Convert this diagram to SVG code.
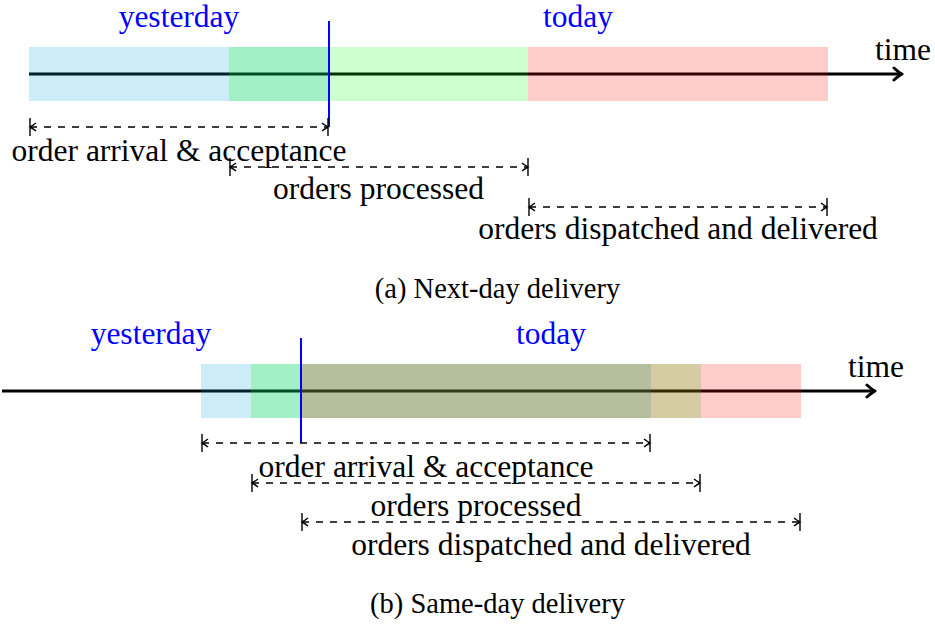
<svg xmlns="http://www.w3.org/2000/svg" width="935" height="625" viewBox="0 0 935 625">
<defs>
<style>
text{font-family:"Liberation Serif","Times New Roman",serif;}
.lbl{font-size:31.5px;fill:#000;text-anchor:middle;}
.day{font-size:31.5px;fill:#0000ff;text-anchor:middle;}
.time{font-size:31.5px;fill:#000;}
.cap{font-size:28.5px;fill:#000;text-anchor:middle;}
.axis{stroke:#000;stroke-width:3;fill:none;marker-end:url(#axarrow);}
.dim{stroke:#000;stroke-width:1.4;fill:none;stroke-dasharray:7 7;marker-start:url(#dimarrow);marker-end:url(#dimarrow);}
.now{stroke:#0000ff;stroke-width:2;}
.arr{fill-opacity:0.2;fill:#00a0dc;}
.proc{fill-opacity:0.2;fill:#00ff00;}
.disp{fill-opacity:0.2;fill:#ff0000;}
</style>
<marker id="dimarrow" viewBox="-9 -10 11 20" markerWidth="11" markerHeight="20" refX="0" refY="0" orient="auto-start-reverse" markerUnits="userSpaceOnUse">
<path d="M0,-9 V9 M-6,-4 Q-2,-1 0,0 Q-2,1 -6,4" fill="none" stroke="#000" stroke-width="1.4"/>
</marker>
<marker id="axarrow" viewBox="-12 -10 14 20" markerWidth="14" markerHeight="20" refX="0" refY="0" orient="auto" markerUnits="userSpaceOnUse">
<path d="M-8,-6 Q-3,-1.5 0,0 Q-3,1.5 -8,6" fill="none" stroke="#000" stroke-width="3" stroke-linecap="round" stroke-linejoin="round"/>
</marker>
</defs>

<g id="panel-a">
  <g id="a-axis">
    <line class="axis" x1="29" y1="74" x2="902" y2="74"/>
    <text class="time" x="875" y="60">time</text>
  </g>
  <g id="a-bars">
    <rect id="a-arrival" class="arr" x="29" y="47" width="300" height="54"/>
    <rect id="a-processing" class="proc" x="229" y="47" width="299" height="54"/>
    <rect id="a-dispatch" class="disp" x="528" y="47" width="300" height="54"/>
  </g>
  <g id="a-now">
    <line class="now" x1="329" y1="21" x2="329" y2="127"/>
    <text class="day" x="179" y="27">yesterday</text>
    <text class="day" x="578" y="27">today</text>
  </g>
  <g id="a-connectors">
    <line class="dim" x1="30" y1="127" x2="328" y2="127"/>
    <line class="dim" x1="230" y1="167" x2="528" y2="167"/>
    <line class="dim" x1="529" y1="207" x2="827" y2="207"/>
  </g>
  <g id="a-labels">
    <text class="lbl" x="179" y="161">order arrival &amp; acceptance</text>
    <text class="lbl" x="378.5" y="199">orders processed</text>
    <text class="lbl" x="678" y="239">orders dispatched and delivered</text>
  </g>
  <text class="cap" x="497.5" y="298">(a) Next-day delivery</text>
</g>

<g id="panel-b">
  <g id="b-axis">
    <line class="axis" x1="2" y1="391" x2="875" y2="391"/>
    <text class="time" x="848" y="377">time</text>
  </g>
  <g id="b-bars">
    <rect id="b-arrival" class="arr" x="201" y="364" width="450" height="54"/>
    <rect id="b-processing" class="proc" x="251" y="364" width="450" height="54"/>
    <rect id="b-dispatch" class="disp" x="301" y="364" width="500" height="54"/>
  </g>
  <g id="b-now">
    <line class="now" x1="301" y1="338" x2="301" y2="443"/>
    <text class="day" x="151" y="344">yesterday</text>
    <text class="day" x="551" y="344">today</text>
  </g>
  <g id="b-connectors">
    <line class="dim" x1="202" y1="443" x2="650" y2="443"/>
    <line class="dim" x1="252" y1="483" x2="700" y2="483"/>
    <line class="dim" x1="302" y1="522" x2="800" y2="522"/>
  </g>
  <g id="b-labels">
    <text class="lbl" x="426" y="477">order arrival &amp; acceptance</text>
    <text class="lbl" x="476" y="516">orders processed</text>
    <text class="lbl" x="551" y="555">orders dispatched and delivered</text>
  </g>
  <text class="cap" x="497.5" y="613">(b) Same-day delivery</text>
</g>
</svg>
